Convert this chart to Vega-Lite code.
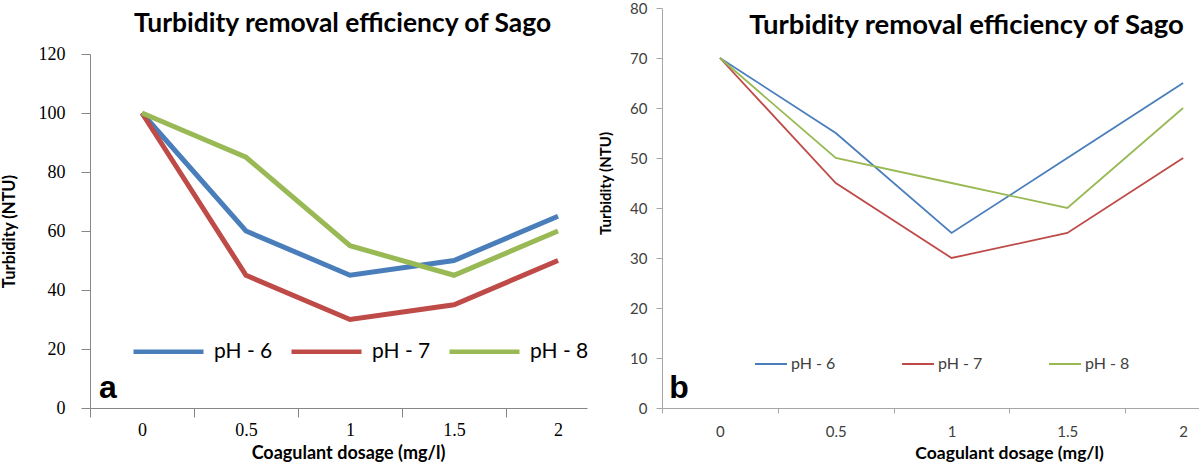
{
  "$schema": "https://vega.github.io/schema/vega-lite/v6.json",
  "background": "white",
  "padding": {"left": 1, "top": 0, "right": 0, "bottom": 0},
  "datasets": {
    "a": [
      {"dose": "0", "pH": "pH - 6", "turbidity": 100},
      {"dose": "0.5", "pH": "pH - 6", "turbidity": 60},
      {"dose": "1", "pH": "pH - 6", "turbidity": 45},
      {"dose": "1.5", "pH": "pH - 6", "turbidity": 50},
      {"dose": "2", "pH": "pH - 6", "turbidity": 65},
      {"dose": "0", "pH": "pH - 7", "turbidity": 100},
      {"dose": "0.5", "pH": "pH - 7", "turbidity": 45},
      {"dose": "1", "pH": "pH - 7", "turbidity": 30},
      {"dose": "1.5", "pH": "pH - 7", "turbidity": 35},
      {"dose": "2", "pH": "pH - 7", "turbidity": 50},
      {"dose": "0", "pH": "pH - 8", "turbidity": 100},
      {"dose": "0.5", "pH": "pH - 8", "turbidity": 85},
      {"dose": "1", "pH": "pH - 8", "turbidity": 55},
      {"dose": "1.5", "pH": "pH - 8", "turbidity": 45},
      {"dose": "2", "pH": "pH - 8", "turbidity": 60}
    ],
    "b": [
      {"dose": "0", "pH": "pH - 6", "turbidity": 70},
      {"dose": "0.5", "pH": "pH - 6", "turbidity": 55},
      {"dose": "1", "pH": "pH - 6", "turbidity": 35},
      {"dose": "1.5", "pH": "pH - 6", "turbidity": 50},
      {"dose": "2", "pH": "pH - 6", "turbidity": 65},
      {"dose": "0", "pH": "pH - 7", "turbidity": 70},
      {"dose": "0.5", "pH": "pH - 7", "turbidity": 45},
      {"dose": "1", "pH": "pH - 7", "turbidity": 30},
      {"dose": "1.5", "pH": "pH - 7", "turbidity": 35},
      {"dose": "2", "pH": "pH - 7", "turbidity": 50},
      {"dose": "0", "pH": "pH - 8", "turbidity": 70},
      {"dose": "0.5", "pH": "pH - 8", "turbidity": 50},
      {"dose": "1", "pH": "pH - 8", "turbidity": 45},
      {"dose": "1.5", "pH": "pH - 8", "turbidity": 40},
      {"dose": "2", "pH": "pH - 8", "turbidity": 60}
    ]
  },
  "spacing": 75,
  "bounds": "flush",
  "resolve": {
    "scale": {"x": "independent", "y": "independent", "color": "shared"},
    "legend": {"color": "independent"}
  },
  "hconcat": [
    {
      "width": 497,
      "height": 408,
      "title": {
        "text": "Turbidity removal efficiency of Sago",
        "frame": "group",
        "anchor": "middle",
        "offset": 0,
        "baseline": "middle",
        "dx": 4,
        "dy": 50,
        "font": "Lato",
        "fontSize": 26.4,
        "fontWeight": "bold",
        "color": "#000000"
      },
      "layer": [
        {
          "data": {"name": "a"},
          "mark": {"type": "line", "strokeWidth": 5},
          "encoding": {
            "x": {
              "field": "dose",
              "type": "ordinal",
              "scale": {"type": "point", "domain": ["0", "0.5", "1", "1.5", "2"], "padding": 0.389, "align": 0.642},
              "axis": {
                "title": "Coagulant dosage (mg/l)",
                "labelAngle": 0,
                "tickOffset": -52,
                "labelOffset": 52,
                "tickSize": 9,
                "labelPadding": 4,
                "labelFont": "Liberation Serif",
                "labelFontSize": 18,
                "labelColor": "#000000",
                "domainColor": "#868686",
                "tickColor": "#868686",
                "grid": false,
                "titleFont": "Lato",
                "titleFontSize": 18,
                "titleFontWeight": "bold",
                "titleColor": "#000000",
                "titleX": 258,
                "titleY": 45,
                "titleBaseline": "middle"
              }
            },
            "y": {
              "field": "turbidity",
              "type": "quantitative",
              "scale": {"domain": [0, 120], "range": [408, 54], "nice": false},
              "axis": {
                "title": "Turbidity (NTU)",
                "values": [0, 20, 40, 60, 80, 100, 120],
                "tickSize": 9,
                "labelPadding": 16,
                "labelFont": "Liberation Serif",
                "labelFontSize": 18,
                "labelColor": "#000000",
                "domainColor": "#868686",
                "tickColor": "#868686",
                "grid": false,
                "titleFont": "Lato",
                "titleFontSize": 16.5,
                "titleFontWeight": "bold",
                "titleColor": "#000000",
                "titleX": -81,
                "titleBaseline": "middle"
              }
            },
            "color": {
              "field": "pH",
              "type": "nominal",
              "scale": {"domain": ["pH - 6", "pH - 7", "pH - 8"], "range": ["#4a7ebb", "#be4b48", "#98b954"]},
              "legend": {
                "orient": "none",
                "legendX": 41,
                "legendY": 314,
                "direction": "horizontal",
                "title": null,
                "padding": 0,
                "symbolType": "stroke",
                "symbolSize": 4900,
                "symbolStrokeWidth": 4.5,
                "labelFont": "Lato",
                "labelFontSize": 21,
                "labelColor": "#000000",
                "labelOffset": 8,
                "columnPadding": 9
              }
            }
          }
        },
        {
          "data": {"values": [{"dose": "0", "turbidity": 3.4, "tag": "a"}]},
          "mark": {"type": "text", "dx": -34, "baseline": "alphabetic", "font": "Liberation Sans", "fontSize": 32, "fontWeight": "bold", "color": "#000000"},
          "encoding": {
            "x": {"field": "dose", "type": "ordinal"},
            "y": {"field": "turbidity", "type": "quantitative"},
            "text": {"field": "tag"}
          }
        }
      ]
    },
    {
      "width": 537,
      "height": 408,
      "title": {
        "text": "Turbidity removal efficiency of Sago",
        "frame": "group",
        "anchor": "middle",
        "offset": 0,
        "baseline": "middle",
        "dx": 36,
        "dy": 53,
        "font": "Lato",
        "fontSize": 27.5,
        "fontWeight": "bold",
        "color": "#000000"
      },
      "layer": [
        {
          "data": {"name": "b"},
          "mark": {"type": "line", "strokeWidth": 1.8},
          "encoding": {
            "x": {
              "field": "dose",
              "type": "ordinal",
              "scale": {"type": "point", "domain": ["0", "0.5", "1", "1.5", "2"], "padding": 0.3187, "align": 0.785},
              "axis": {
                "title": "Coagulant dosage (mg/l)",
                "labelAngle": 0,
                "tickOffset": -57.9,
                "labelOffset": 57.9,
                "tickSize": 5,
                "labelPadding": 11,
                "labelFont": "Lato",
                "labelFontSize": 15,
                "labelColor": "#404040",
                "domainColor": "#a6a6a6",
                "tickColor": "#a6a6a6",
                "grid": false,
                "titleFont": "Lato",
                "titleFontSize": 17.5,
                "titleFontWeight": "bold",
                "titleColor": "#000000",
                "titleX": 347,
                "titleY": 45,
                "titleBaseline": "middle"
              }
            },
            "y": {
              "field": "turbidity",
              "type": "quantitative",
              "scale": {"domain": [0, 80], "range": [408, 8], "nice": false},
              "axis": {
                "title": "Turbidity (NTU)",
                "values": [0, 10, 20, 30, 40, 50, 60, 70, 80],
                "tickSize": 6,
                "labelPadding": 9,
                "labelFont": "Lato",
                "labelFontSize": 15,
                "labelColor": "#404040",
                "domainColor": "#a6a6a6",
                "tickColor": "#a6a6a6",
                "grid": false,
                "titleFont": "Lato",
                "titleFontSize": 15,
                "titleFontWeight": "bold",
                "titleColor": "#000000",
                "titleX": -57,
                "titleY": 183,
                "titleBaseline": "middle"
              }
            },
            "color": {
              "field": "pH",
              "type": "nominal",
              "legend": {
                "orient": "none",
                "legendX": 92,
                "legendY": 347,
                "direction": "horizontal",
                "title": null,
                "padding": 0,
                "symbolType": "stroke",
                "symbolSize": 1024,
                "symbolStrokeWidth": 2,
                "labelFont": "Lato",
                "labelFontSize": 16,
                "labelColor": "#404040",
                "labelOffset": 3,
                "columnPadding": 62
              }
            }
          }
        },
        {
          "data": {"values": [{"dose": "0", "turbidity": 2, "tag": "b"}]},
          "mark": {"type": "text", "dx": -41, "baseline": "alphabetic", "font": "Liberation Sans", "fontSize": 32, "fontWeight": "bold", "color": "#000000"},
          "encoding": {
            "x": {"field": "dose", "type": "ordinal"},
            "y": {"field": "turbidity", "type": "quantitative"},
            "text": {"field": "tag"}
          }
        }
      ]
    }
  ],
  "config": {
    "view": {"stroke": null}
  }
}
